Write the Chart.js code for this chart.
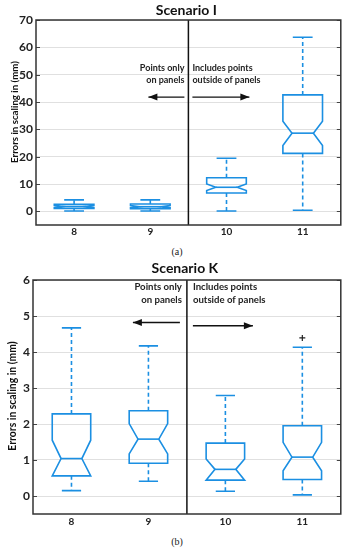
<!DOCTYPE html>
<html>
<head>
<meta charset="utf-8">
<script src="https://cdn.jsdelivr.net/npm/chart.js@4.4.0/dist/chart.umd.min.js"></script>
<style>
  body { margin: 0; background: #fff; width: 346px; height: 550px; position: relative; overflow: hidden; }
  .wrap { position: absolute; left: 0; width: 346px; }
  .cap { position: absolute; left: 4px; width: 346px; text-align: center; font-family: "Liberation Serif", serif; font-size: 10px; color: #222; }
</style>
</head>
<body>
<div class="wrap" style="top:0"><canvas id="chartI" width="346" height="240"></canvas></div>
<div class="cap" style="top:246px">(a)</div>
<div class="wrap" style="top:260px"><canvas id="chartK" width="346" height="270"></canvas></div>
<div class="cap" style="top:536px">(b)</div>
<script>
// groups on the x axis
const groups = ['8', '9', '10', '11'];

// Scenario I (errors in mm)
const iLower   = [0.1, 0.1, 0.1, 0.4];
const iQ1      = [1.1, 1.0, 6.7, 21.2];
const iNotchLo = [1.4, 1.3, 7.6, 24.1];
const iMedian  = [1.8, 1.7, 8.8, 28.6];
const iNotchHi = [2.2, 2.1, 10.0, 33.0];
const iQ3      = [2.6, 2.7, 12.3, 42.6];
const iUpper   = [4.2, 4.2, 19.4, 63.7];
const iOutliers = [null, null, null, null];
const iTicks = [0, 10, 20, 30, 40, 50, 60, 70];

// Scenario K (errors in mm)
const kLower   = [0.15, 0.41, 0.13, 0.03];
const kQ1      = [0.56, 0.91, 0.44, 0.46];
const kNotchLo = [0.56, 1.17, 0.44, 0.70];
const kMedian  = [1.04, 1.58, 0.74, 1.08];
const kNotchHi = [1.55, 2.01, 1.03, 1.49];
const kQ3      = [2.28, 2.37, 1.47, 1.95];
const kUpper   = [4.67, 4.17, 2.79, 4.13];
const kOutliers = [null, null, null, 4.39];
const kTicks = [0, 1, 2, 3, 4, 5, 6];

const BLUE = '#1b8fe2';
const FONT = 'Lato, "Open Sans", sans-serif';

function makeChart(id, o) {
  const boxPlugin = {
    id: 'notchBox',
    afterDatasetsDraw(chart) {
      const { ctx, chartArea: a, scales: { x, y } } = chart;
      const hw = (x.getPixelForValue(1) - x.getPixelForValue(0)) * o.boxHalf;
      const inset = hw * 0.46;
      ctx.save();

      // grid ticks on left and right edges
      ctx.strokeStyle = '#444';
      ctx.lineWidth = 1;
      o.ticks.forEach(v => {
        const py = Math.round(y.getPixelForValue(v)) + 0.5;
        ctx.beginPath();
        ctx.moveTo(a.left, py); ctx.lineTo(a.left + 4, py);
        ctx.moveTo(a.right - 4, py); ctx.lineTo(a.right, py);
        ctx.stroke();
      });

      // notched boxes
      ctx.strokeStyle = BLUE;
      ctx.lineWidth = 1.6;
      groups.forEach((g, i) => {
        const cx = x.getPixelForValue(i);
        const L = cx - hw, R = cx + hw;
        const q1 = y.getPixelForValue(o.q1[i]);
        const q3 = y.getPixelForValue(o.q3[i]);
        const md = y.getPixelForValue(o.median[i]);
        const nl = y.getPixelForValue(Math.max(o.notchLo[i], o.q1[i]));
        const nh = y.getPixelForValue(Math.min(o.notchHi[i], o.q3[i]));
        const lo = y.getPixelForValue(o.lower[i]);
        const up = y.getPixelForValue(o.upper[i]);

        ctx.setLineDash([]);
        ctx.beginPath();
        ctx.moveTo(L, q3); ctx.lineTo(R, q3); ctx.lineTo(R, nh);
        ctx.lineTo(R - inset, md); ctx.lineTo(R, nl); ctx.lineTo(R, q1);
        ctx.lineTo(L, q1); ctx.lineTo(L, nl); ctx.lineTo(L + inset, md);
        ctx.lineTo(L, nh); ctx.closePath();
        ctx.stroke();
        ctx.beginPath();
        ctx.moveTo(L + inset, md); ctx.lineTo(R - inset, md);
        ctx.stroke();

        // caps
        ctx.beginPath();
        ctx.moveTo(cx - hw / 2, up); ctx.lineTo(cx + hw / 2, up);
        ctx.moveTo(cx - hw / 2, lo); ctx.lineTo(cx + hw / 2, lo);
        ctx.stroke();

        // dashed whiskers
        ctx.setLineDash([4, 3]);
        ctx.beginPath();
        ctx.moveTo(cx, q3); ctx.lineTo(cx, up);
        ctx.moveTo(cx, q1); ctx.lineTo(cx, lo);
        ctx.stroke();
      });
      ctx.setLineDash([]);

      // divider between groups 9 and 10
      const xd = x.getPixelForValue(1.5);
      ctx.strokeStyle = '#111';
      ctx.lineWidth = 1.5;
      ctx.beginPath();
      ctx.moveTo(xd, a.top); ctx.lineTo(xd, a.bottom);
      ctx.stroke();

      // arrows
      const arrow = (x0, x1, py) => {
        ctx.beginPath();
        ctx.moveTo(x0, py); ctx.lineTo(x1, py);
        ctx.stroke();
        const d = Math.sign(x1 - x0);
        ctx.beginPath();
        ctx.moveTo(x1, py);
        ctx.lineTo(x1 - d * 9, py - 3.5);
        ctx.lineTo(x1 - d * 9, py + 3.5);
        ctx.closePath();
        ctx.fill();
      };
      ctx.fillStyle = '#111';
      ctx.lineWidth = 1.4;
      arrow(xd + o.arrowL[0], xd + o.arrowL[1], y.getPixelForValue(o.arrowL[2]));
      arrow(xd + o.arrowR[0], xd + o.arrowR[1], y.getPixelForValue(o.arrowR[2]));

      // notes
      ctx.fillStyle = '#222';
      ctx.font = 'bold ' + o.noteSize + 'px ' + FONT;
      ctx.textBaseline = 'middle';
      ctx.textAlign = 'right';
      o.noteLeft.forEach((t, k) => ctx.fillText(t, xd + o.noteDx[0], y.getPixelForValue(o.noteY[k])));
      ctx.textAlign = 'left';
      o.noteRight.forEach((t, k) => ctx.fillText(t, xd + o.noteDx[1], y.getPixelForValue(o.noteY[k])));

      // frame
      ctx.strokeStyle = '#333';
      ctx.lineWidth = 1.5;
      ctx.strokeRect(a.left, a.top, a.right - a.left, a.bottom - a.top);

      // title
      ctx.fillStyle = '#111';
      ctx.textAlign = 'center';
      ctx.font = 'bold 14px ' + FONT;
      ctx.fillText(o.title, (a.left + a.right) / 2 - 2, o.titleY);

      // y axis title
      ctx.save();
      ctx.translate(o.yTitle[0], o.yTitle[1]);
      ctx.rotate(-Math.PI / 2);
      ctx.font = 'bold ' + o.yTitle[2] + 'px ' + FONT;
      ctx.fillText('Errors in scaling in (mm)', 0, 0);
      ctx.restore();

      ctx.restore();
    }
  };

  return new Chart(document.getElementById(id), {
    type: 'line',
    data: {
      labels: groups,
      datasets: [{
        label: 'outliers',
        data: o.outliers,
        showLine: false,
        pointStyle: 'cross',
        pointRadius: 3,
        pointBorderColor: '#222',
        pointBorderWidth: 1.2
      }]
    },
    options: {
      responsive: false,
      animation: false,
      layout: { padding: o.padding },
      plugins: { legend: { display: false }, tooltip: { enabled: false } },
      scales: {
        x: {
          type: 'category',
          offset: true,
          grid: { display: false, drawTicks: false },
          border: { display: false },
          ticks: { color: '#222', font: { family: FONT, size: 10, weight: 'bold' }, padding: o.xPad },
          afterFit: s => { s.height = o.xHeight; }
        },
        y: {
          min: o.min,
          max: o.max,
          grid: { color: '#e0e0e0', lineWidth: 1, drawTicks: false },
          border: { display: false },
          ticks: { color: '#222', font: { family: FONT, size: 12, weight: 'bold' }, padding: 3 },
          afterBuildTicks: s => { s.ticks = o.ticks.map(v => ({ value: v })); },
          afterFit: s => { s.width = o.yWidth; }
        }
      }
    },
    plugins: [boxPlugin]
  });
}

makeChart('chartI', {
  title: 'Scenario I', titleY: 10,
  lower: iLower, q1: iQ1, notchLo: iNotchLo, median: iMedian, notchHi: iNotchHi, q3: iQ3, upper: iUpper,
  outliers: iOutliers, ticks: iTicks, min: -5, max: 70,
  boxHalf: 0.26,
  padding: { top: 20, right: 3, left: 0, bottom: 0 }, yWidth: 36, xHeight: 15, xPad: 1,
  noteLeft: ['Points only', 'on panels'], noteRight: ['Includes points', 'outside of panels'],
  noteY: [52.4, 47.9], noteDx: [-4, 4], noteSize: 9,
  arrowL: [-4, -40, 41.8], arrowR: [4, 61, 41.8],
  yTitle: [15, 112, 9.7]
});

makeChart('chartK', {
  title: 'Scenario K', titleY: 8,
  lower: kLower, q1: kQ1, notchLo: kNotchLo, median: kMedian, notchHi: kNotchHi, q3: kQ3, upper: kUpper,
  outliers: kOutliers, ticks: kTicks, min: -0.5, max: 6,
  boxHalf: 0.25,
  padding: { top: 20, right: 5, left: 0, bottom: 0 }, yWidth: 33, xHeight: 16, xPad: 2,
  noteLeft: ['Points only', 'on panels'], noteRight: ['Includes points', 'outside of panels'],
  noteY: [5.82, 5.45], noteDx: [-5, 6], noteSize: 9.6,
  arrowL: [-7, -54, 4.82], arrowR: [6, 66, 4.73],
  yTitle: [12.5, 136, 10.4]
});
</script>
</body>
</html>
